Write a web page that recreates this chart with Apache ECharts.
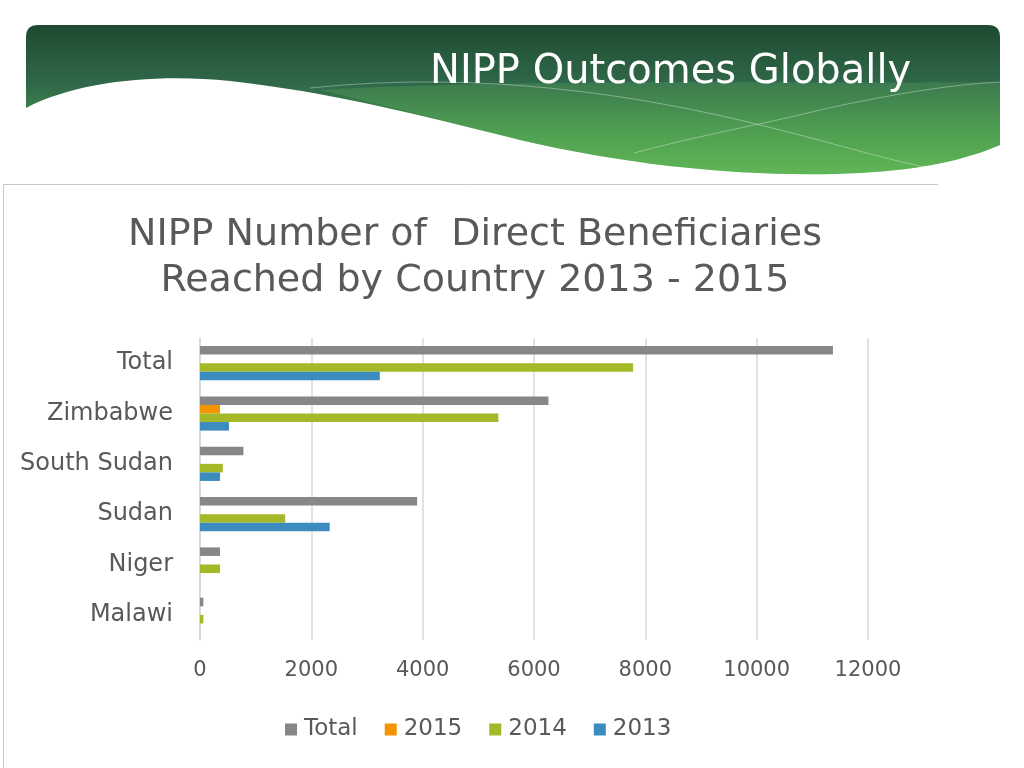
<!DOCTYPE html>
<html>
<head>
<meta charset="utf-8">
<title>NIPP Outcomes Globally</title>
<script src="https://cdn.jsdelivr.net/npm/echarts@6/dist/echarts.min.js"></script>
<style>
  html, body { margin: 0; padding: 0; background: #fff; }
  #chart { width: 1024px; height: 768px; }
</style>
</head>
<body>
<div id="chart"></div>
<script>
// countries, top to bottom as on the slide
const countries = ['Total', 'Zimbabwe', 'South Sudan', 'Sudan', 'Niger', 'Malawi'];
const totalVals = [11370, 6260, 780, 3900, 360, 60];
const vals2015 = [null, 360, null, null, null, null];
const vals2014 = [7780, 5360, 410, 1530, 360, 60];
const vals2013 = [3230, 520, 360, 2330, null, null];
const seriesNames = ['Total', '2015', '2014', '2013'];
const seriesColors = ['#878787', '#f39400', '#a5b928', '#3d8cbf'];

const txt = '#595959';
const font = '"DejaVu Sans", sans-serif';

// green banner at the top of the slide (decoration only)
const bannerPath = 'M26,108 C80,80 160,74 230,81 C330,92 420,115 520,140 C640,168 760,178 860,173 ' +
  'C920,170 965,160 1000,145 L1000,37 Q1000,25 988,25 L38,25 Q26,25 26,37 Z';
const bandPath = 'M320,90 C520,78 800,84 1000,82 L1000,145 C965,160 920,170 860,173 ' +
  'C760,178 640,168 520,140 C440,120 380,104 320,90 Z';
const lineA = 'M310,88 C480,70 640,95 760,125 C830,142 880,158 925,167';
const lineB = 'M634,153 C700,135 760,125 820,110 C900,92 960,84 1000,82';

// the graphic component has no plain 'path' type, so register the shapes
echarts.graphic.registerShape('bannerShape', echarts.graphic.extendPath(bannerPath, {}));
echarts.graphic.registerShape('bandShape', echarts.graphic.extendPath(bandPath, {}));
echarts.graphic.registerShape('lineAShape', echarts.graphic.extendPath(lineA, {}));
echarts.graphic.registerShape('lineBShape', echarts.graphic.extendPath(lineB, {}));

const chart = echarts.init(document.getElementById('chart'));

const option = {
  backgroundColor: '#fff',
  animation: false,
  textStyle: { fontFamily: font },
  graphic: [
    {
      type: 'bannerShape', silent: true,
      style: {
        fill: new echarts.graphic.LinearGradient(0, 0, 0, 1, [
          { offset: 0, color: '#1f4a30' },
          { offset: 0.4, color: '#30694a' },
          { offset: 0.7, color: '#46944c' },
          { offset: 1, color: '#5cb452' }
        ])
      }
    },
    { type: 'bandShape', silent: true, style: { fill: 'rgba(110,190,100,0.22)' } },
    { type: 'lineAShape', silent: true, style: { fill: null, stroke: 'rgba(255,255,255,0.35)', lineWidth: 1 } },
    { type: 'lineBShape', silent: true, style: { fill: null, stroke: 'rgba(255,255,255,0.35)', lineWidth: 1 } },
    {
      type: 'text', left: 430, top: 53, silent: true,
      style: { text: 'NIPP Outcomes Globally', fill: '#fff', fontSize: 40, fontFamily: font }
    },
    // chart frame
    { type: 'line', silent: true, shape: { x1: 3, y1: 184.5, x2: 938, y2: 184.5 }, style: { stroke: '#c8c8c8', lineWidth: 1 } },
    { type: 'line', silent: true, shape: { x1: 3.5, y1: 184, x2: 3.5, y2: 768 }, style: { stroke: '#c8c8c8', lineWidth: 1 } }
  ],
  title: {
    text: 'NIPP Number of  Direct Beneficiaries\nReached by Country 2013 - 2015',
    left: 470, top: 207, textAlign: 'center',
    textStyle: { color: txt, fontSize: 38, fontWeight: 'normal', lineHeight: 46, fontFamily: font }
  },
  legend: {
    data: seriesNames,
    bottom: 22, left: 280,
    icon: 'rect', itemWidth: 12, itemHeight: 12, itemGap: 27,
    textStyle: { color: txt, fontSize: 23, fontFamily: font, padding: [0, 0, 0, 2] }
  },
  grid: { left: 200, right: 156, top: 338, bottom: 128 },
  xAxis: {
    type: 'value', min: 0, max: 12000, interval: 2000,
    axisLine: { show: false }, axisTick: { show: false },
    splitLine: { lineStyle: { color: '#d9d9d9', width: 1.5 } },
    axisLabel: { color: txt, fontSize: 21, margin: 20, fontFamily: font, formatter: v => String(v) }
  },
  yAxis: {
    type: 'category', data: countries, inverse: true,
    axisLine: { lineStyle: { color: '#d9d9d9', width: 1.5 } },
    axisTick: { show: false },
    axisLabel: { color: txt, fontSize: 24, margin: 27, fontFamily: font }
  },
  series: [totalVals, vals2015, vals2014, vals2013].map((d, i) => ({
    name: seriesNames[i], type: 'bar', data: d,
    barGap: '0%', barCategoryGap: '32%',
    itemStyle: { color: seriesColors[i] }
  }))
};

chart.setOption(option);
</script>
</body>
</html>
